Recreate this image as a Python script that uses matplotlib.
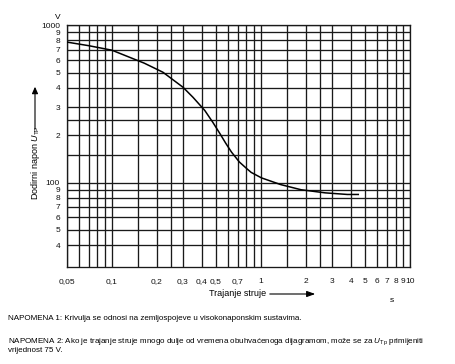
import matplotlib
matplotlib.use("Agg")
import matplotlib.pyplot as plt

plt.rcParams['font.family'] = ['Liberation Sans', 'DejaVu Sans']
plt.rcParams['mathtext.fontset'] = 'custom'
plt.rcParams['mathtext.rm'] = 'Liberation Sans'
plt.rcParams['mathtext.it'] = 'Liberation Sans:italic'

# krivulja dodirnog napona (ocitano sa slike)
trajanje = [0.05, 0.07, 0.1, 0.165, 0.22, 0.30, 0.35, 0.42, 0.476, 0.53, 0.58, 0.635, 0.717,
            0.80, 0.86, 1.01, 1.36, 1.86, 2.7, 3.8, 4.5]
napon = [780, 740, 693, 573, 502, 403, 348, 287, 241, 205, 178, 156, 135,
         123, 116, 107, 97, 90, 86, 84, 84]

x_ticks = [0.05, 0.1, 0.2, 0.3, 0.4, 0.5, 0.7, 1, 2, 3, 4, 5, 6, 7, 8, 9, 10]
x_labels = ['0,05', '0,1', '0,2', '0,3', '0,4', '0,5', '0,7', '1', '2', '3', '4', '5', '6', '7', '8', '9', '10']
x_grid = [0.05, 0.06, 0.07, 0.08, 0.09, 0.1, 0.15, 0.2, 0.25, 0.3, 0.4, 0.5, 0.6, 0.7, 0.8, 0.9,
          1, 1.5, 2, 2.5, 3, 4, 5, 6, 7, 8, 9, 10]

y_ticks = [40, 50, 60, 70, 80, 90, 100, 200, 300, 400, 500, 600, 700, 800, 900, 1000]
y_labels = ['4', '5', '6', '7', '8', '9', '100', '2', '3', '4', '5', '6', '7', '8', '9', '1000']
y_grid = [40, 50, 60, 70, 80, 90, 100, 150, 200, 250, 300, 400, 500, 600, 700, 800, 900, 1000]

napomena1 = "NAPOMENA 1: Krivulja se odnosi na zemljospojeve u visokonaponskim sustavima."
napomena2 = ("NAPOMENA 2: Ako je trajanje struje mnogo dulje od vremena obuhvaćenoga dijagramom, "
             "može se za $U_{\\mathrm{Tp}}$ primijeniti")
napomena2b = "vrijednost 75 V."

fig = plt.figure(figsize=(4.56, 3.64), dpi=100)
ax = fig.add_axes([0.147, 0.266, 0.752, 0.665])

ax.set_xscale('log')
ax.set_yscale('log')
ax.set_xlim(0.05, 10)
ax.set_ylim(29, 1000)

for xv in x_grid:
    ax.axvline(xv, color='#1a1a1a', lw=0.95, zorder=1)
for yv in y_grid:
    ax.axhline(yv, color='#1a1a1a', lw=0.95, zorder=1)

ax.plot(trajanje, napon, color='black', lw=1.1, zorder=3)

ax.xaxis.set_minor_locator(matplotlib.ticker.NullLocator())
ax.yaxis.set_minor_locator(matplotlib.ticker.NullLocator())
ax.set_xticks(x_ticks)
ax.set_xticklabels(x_labels)
ax.set_yticks(y_ticks)
ax.set_yticklabels(y_labels)
ax.tick_params(axis='both', length=0, labelsize=6, colors='#111111')
ax.tick_params(axis='x', pad=8)
ax.tick_params(axis='y', pad=5)
for sp in ax.spines.values():
    sp.set_color('#1a1a1a')
    sp.set_linewidth(0.95)

ax.text(-0.02, 1.015, 'V', transform=ax.transAxes, ha='right', va='bottom', fontsize=6)

# os y: natpis i strelica
fig.text(35 / 456, 1 - 163 / 364, 'Dodirni napon $U_{\\mathrm{TP}}$', rotation=90,
         ha='center', va='center', fontsize=6.5)
fig.add_artist(matplotlib.patches.FancyArrowPatch(
    (35 / 456, 1 - 132 / 364), (35 / 456, 1 - 84 / 364), transform=fig.transFigure,
    arrowstyle='-|>,head_length=4,head_width=1.8', color='black', lw=0.8))

# os x: natpis i strelica
fig.text(238 / 456, 1 - 294 / 364, 'Trajanje struje', ha='center', va='center', fontsize=6.5)
fig.add_artist(matplotlib.patches.FancyArrowPatch(
    (267 / 456, 1 - 294 / 364), (318 / 456, 1 - 294 / 364), transform=fig.transFigure,
    arrowstyle='-|>,head_length=5,head_width=1.8', color='black', lw=0.8))
fig.text(392 / 456, 1 - 300 / 364, 's', ha='center', va='center', fontsize=6)

fig.text(8 / 456, 1 - 319 / 364, napomena1, ha='left', va='center', fontsize=5.8)
fig.text(8 / 456, 1 - 342 / 364, napomena2, ha='left', va='center', fontsize=5.8)
fig.text(8 / 456, 1 - 351 / 364, napomena2b, ha='left', va='center', fontsize=5.8)

fig.savefig('out.png', dpi=100)
